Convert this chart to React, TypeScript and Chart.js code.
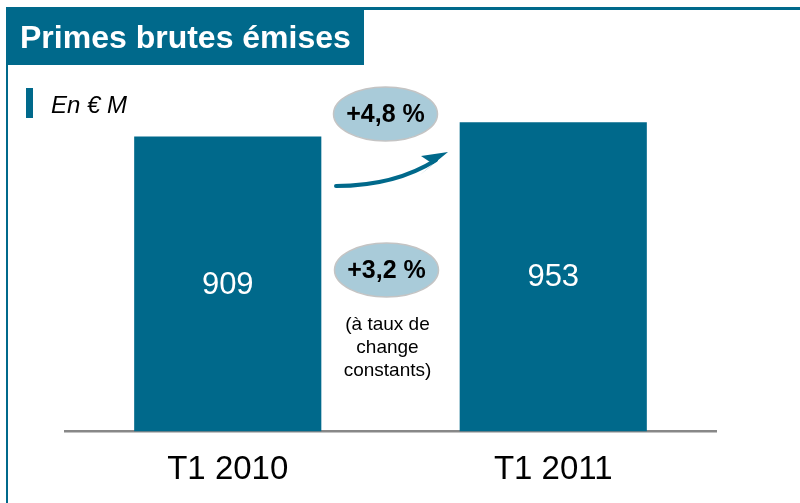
import React, { useEffect, useRef } from "react";
import { Chart, registerables } from "chart.js";

Chart.register(...registerables);

const categories = ["T1 2010", "T1 2011"];
const values = [909, 953];
const titleText = "Primes brutes émises";
const unitText = "En € M";
const growthReported = "+4,8 %";
const growthConstant = "+3,2 %";
const constantNote = ["(à taux de", "change", "constants)"];

const TEAL = "#00698b";
const FONT = "'Liberation Sans', Arial, Helvetica, sans-serif";

const decorPlugin = {
  id: "decor",
  afterDraw(chart: any) {
    const ctx = chart.ctx as CanvasRenderingContext2D;
    ctx.save();
    // frame lines
    ctx.fillStyle = TEAL;
    ctx.fillRect(6, 7, 800 - 6, 3);
    ctx.fillRect(6, 7, 2, 503 - 7);
    // title box
    ctx.fillRect(6, 8, 358, 57);
    ctx.fillStyle = "#ffffff";
    ctx.font = `bold 32px ${FONT}`;
    ctx.textAlign = "left";
    ctx.textBaseline = "alphabetic";
    ctx.fillText(titleText, 20, 48);
    // unit
    ctx.fillStyle = TEAL;
    ctx.fillRect(26, 88, 7, 30);
    ctx.fillStyle = "#000000";
    ctx.font = `italic 24px ${FONT}`;
    ctx.fillText(unitText, 51, 113);

    // value labels inside bars
    const meta = chart.getDatasetMeta(0);
    ctx.font = `31px ${FONT}`;
    ctx.fillStyle = "#ffffff";
    ctx.textAlign = "center";
    ctx.textBaseline = "middle";
    meta.data.forEach((bar: any, i: number) => {
      const mid = (bar.y + bar.base) / 2;
      ctx.fillText(String(values[i]), bar.x, mid + 1);
    });

    const midX = (meta.data[0].x + meta.data[1].x) / 2;

    // ellipses
    const drawBadge = (cx: number, cy: number, text: string) => {
      ctx.beginPath();
      ctx.ellipse(cx, cy, 52, 27, 0, 0, Math.PI * 2);
      ctx.fillStyle = "#a9cbd9";
      ctx.fill();
      ctx.lineWidth = 1.5;
      ctx.strokeStyle = "#c4c4c4";
      ctx.stroke();
      ctx.fillStyle = "#000000";
      ctx.font = `bold 25px ${FONT}`;
      ctx.textAlign = "center";
      ctx.textBaseline = "middle";
      ctx.fillText(text, cx, cy + 1);
    };
    drawBadge(midX - 5, 114, growthReported);
    drawBadge(midX - 4, 270, growthConstant);

    // note
    ctx.fillStyle = "#000000";
    ctx.font = `19px ${FONT}`;
    ctx.textAlign = "center";
    ctx.textBaseline = "middle";
    constantNote.forEach((line, i) => {
      ctx.fillText(line, midX - 3, 325 + i * 23);
    });

    // arrow
    ctx.strokeStyle = TEAL;
    ctx.fillStyle = TEAL;
    ctx.lineCap = "round";
    ctx.lineWidth = 4;
    ctx.beginPath();
    ctx.moveTo(336, 186);
    ctx.quadraticCurveTo(395, 186, 436, 160);
    ctx.stroke();
    ctx.beginPath();
    ctx.moveTo(448, 152);
    ctx.lineTo(421, 156);
    ctx.lineTo(433, 164);
    ctx.lineTo(420, 175);
    ctx.closePath();
    ctx.fill();
    ctx.restore();
  },
};

export default function App() {
  const ref = useRef<HTMLCanvasElement>(null);
  useEffect(() => {
    if (!ref.current) return;
    const chart = new Chart(ref.current, {
      type: "bar",
      data: {
        labels: categories,
        datasets: [
          {
            data: values,
            backgroundColor: TEAL,
            borderWidth: 0,
            barPercentage: 0.575,
            categoryPercentage: 1,
          },
        ],
      },
      options: {
        responsive: false,
        animation: false,
        layout: { padding: { left: 65, right: 84, top: 107, bottom: -6 } },
        plugins: {
          legend: { display: false },
          tooltip: { enabled: false },
          title: { display: false },
        },
        scales: {
          x: {
            grid: { display: false, drawTicks: false },
            border: { display: true, color: "#888888", width: 2.5 },
            ticks: {
              color: "#000000",
              font: { family: FONT, size: 33 },
              padding: 19,
            },
          },
          y: {
            display: false,
            min: 0,
            max: 1000,
          },
        },
      },
      plugins: [decorPlugin],
    });
    return () => chart.destroy();
  }, []);
  return (
    <div style={{ position: "fixed", left: 0, top: 0, width: 800, height: 503, background: "#fff" }}>
      <canvas ref={ref} width={800} height={503} />
    </div>
  );
}
